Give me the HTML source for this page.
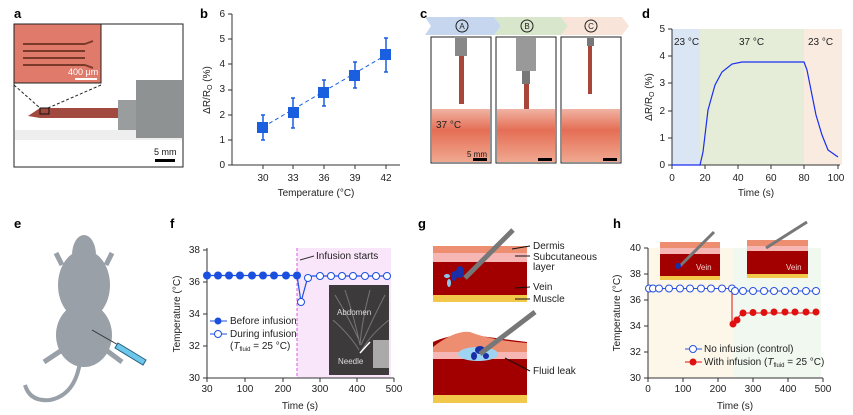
<!DOCTYPE html>
<html><head><meta charset="utf-8"><style>
body{margin:0;background:#fff;}
svg{display:block;font-family:"Liberation Sans",sans-serif;}
.t{font-size:10px;fill:#222}
.b{font-size:13px;font-weight:bold;fill:#000}
</style></head><body>
<svg width="853" height="415" viewBox="0 0 853 415" xmlns="http://www.w3.org/2000/svg">
<!-- a -->
<text x="14" y="18" class="b">a</text>
<rect x="14" y="24" width="169" height="143" fill="#fff" stroke="#222" stroke-width="1"/>
<rect x="15" y="130" width="167" height="10" fill="#eee"/>
<rect x="14" y="24" width="87" height="59" fill="#e07a6a" stroke="#222"/>
<g stroke="#7a3a2a" stroke-width="2" fill="none">
<path d="M23 44H85M23 51H85M23 58H85M23 65H85M85 44l8-3M85 65l8 3"/>
</g>
<text x="68" y="75" font-size="9" fill="#fff">400 μm</text>
<rect x="75" y="78" width="22" height="2" fill="#fff"/>
<path d="M14 85L40 108M101 85L48 108" stroke="#222" stroke-dasharray="3,2"/>
<path d="M28 116L40 108H122V118H40Z" fill="#a34a40"/>
<rect x="40" y="108" width="9" height="6" fill="none" stroke="#111"/>
<rect x="118" y="100" width="20" height="30" fill="#9a9d9e"/>
<rect x="136" y="80" width="46" height="58" fill="#8f9293"/>
<text x="154" y="155" font-size="9" fill="#111">5 mm</text>
<rect x="155" y="159" width="20" height="3" fill="#000"/>
<!-- b -->
<text x="200" y="18" class="b">b</text>
<g class="t" text-anchor="end" font-size="9">
<text x="225" y="168">0</text><text x="225" y="143">1</text><text x="225" y="118">2</text><text x="225" y="92">3</text><text x="225" y="67">4</text><text x="225" y="42">5</text><text x="225" y="17">6</text></g>
<path d="M232 14V165H400M228 14h4M228 39h4M228 64h4M228 90h4M228 115h4M228 140h4M228 165h4M263 165v4M293 165v4M324 165v4M355 165v4M386 165v4" stroke="#333" fill="none"/>
<g class="t" text-anchor="middle" font-size="9"><text x="263" y="181">30</text><text x="293" y="181">33</text><text x="324" y="181">36</text><text x="355" y="181">39</text><text x="386" y="181">42</text></g>
<text x="316" y="196" class="t" text-anchor="middle">Temperature (°C)</text>
<text transform="translate(210,90) rotate(-90)" class="t" text-anchor="middle">ΔR/R<tspan font-size="7" dy="2">O</tspan><tspan dy="-2"> (%)</tspan></text>
<path d="M263 127L386 55" stroke="#1a5fe0" stroke-dasharray="4,3"/>
<g stroke="#1a5fe0" stroke-width="1.5"><path d="M263 115v25M293 98v30M324 80v26M355 62v26M386 38v34M261 115h4M261 140h4M291 98h4M291 128h4M322 80h4M322 106h4M353 62h4M353 88h4M384 38h4M384 72h4"/></g>
<g fill="#1a5fe0"><rect x="257" y="122" width="11" height="11"/><rect x="288" y="107" width="11" height="11"/><rect x="318" y="87" width="11" height="11"/><rect x="349" y="70" width="11" height="11"/><rect x="380" y="49" width="11" height="11"/></g>
<!-- c -->
<text x="420" y="18" class="b">c</text>
<path d="M425 17H494L501 26L494 35H425L431 26Z" fill="#c5d6ee"/>
<path d="M494 17H561L568 26L561 35H494L501 26Z" fill="#d8e6cc"/>
<path d="M561 17H622L629 26L622 35H561L568 26Z" fill="#f8e4d8"/>
<g fill="none" stroke="#222"><circle cx="462" cy="26" r="6"/><circle cx="527" cy="26" r="6"/><circle cx="591" cy="26" r="6"/></g>
<g font-size="8" text-anchor="middle" fill="#222"><text x="462" y="29">A</text><text x="527" y="29">B</text><text x="591" y="29">C</text></g>
<defs><linearGradient id="m" x1="0" y1="0" x2="0" y2="1"><stop offset="0" stop-color="#f0b3a3"/><stop offset="0.4" stop-color="#e56e55"/><stop offset="1" stop-color="#f0a890"/></linearGradient></defs>
<g stroke="#222"><rect x="431" y="37" width="60" height="126" fill="#fff"/><rect x="496" y="37" width="60" height="126" fill="#fff"/><rect x="561" y="37" width="60" height="126" fill="#fff"/></g>
<rect x="432" y="109" width="58" height="53" fill="url(#m)"/><rect x="497" y="109" width="58" height="53" fill="url(#m)"/><rect x="562" y="109" width="58" height="53" fill="url(#m)"/>
<rect x="455" y="38" width="12" height="18" fill="#888"/><rect x="459" y="56" width="5" height="48" fill="#a9463a"/>
<rect x="516" y="38" width="20" height="33" fill="#999"/><rect x="522" y="71" width="8" height="13" fill="#777"/><rect x="524" y="84" width="5" height="25" fill="#a9463a"/>
<rect x="587" y="38" width="7" height="8" fill="#777"/><rect x="588" y="46" width="4" height="48" fill="#a9463a"/>
<text x="436" y="128" font-size="10" fill="#222">37 °C</text>
<text x="467" y="157" font-size="8" fill="#111">5 mm</text>
<g fill="#000"><rect x="473" y="158" width="14" height="3"/><rect x="538" y="158" width="14" height="3"/><rect x="603" y="158" width="14" height="3"/></g>
<!-- d -->
<text x="642" y="18" class="b">d</text>
<rect x="672" y="29" width="28" height="136" fill="#dbe6f4"/>
<rect x="700" y="29" width="104" height="136" fill="#e5ecd8"/>
<rect x="804" y="29" width="38" height="136" fill="#f9ebe0"/>
<g class="t" font-size="10"><text x="674" y="45">23 °C</text><text x="739" y="45">37 °C</text><text x="808" y="45">23 °C</text></g>
<path d="M672 29V165H840M668 29h4M668 56h4M668 83h4M668 111h4M668 138h4M668 165h4M672 165v4M705 165v4M738 165v4M771 165v4M804 165v4M838 165v4" stroke="#333" fill="none"/>
<g class="t" text-anchor="end" font-size="9"><text x="665" y="168">0</text><text x="665" y="141">1</text><text x="665" y="114">2</text><text x="665" y="86">3</text><text x="665" y="59">4</text><text x="665" y="32">5</text></g>
<g class="t" text-anchor="middle" font-size="9"><text x="672" y="181">0</text><text x="705" y="181">20</text><text x="738" y="181">40</text><text x="771" y="181">60</text><text x="804" y="181">80</text><text x="836" y="181">100</text></g>
<text x="756" y="196" class="t" text-anchor="middle">Time (s)</text>
<text transform="translate(652,97) rotate(-90)" class="t" text-anchor="middle">ΔR/R<tspan font-size="7" dy="2">O</tspan><tspan dy="-2"> (%)</tspan></text>
<path d="M672 165H700L703 152L708 110L715 85L722 72L732 64L742 62H804L807 70L811 90L816 115L822 135L828 150L838 157" stroke="#1a2ef0" fill="none" stroke-width="1.2"/>
<!-- e -->
<text x="14" y="228" class="b">e</text>
<g fill="#9aa0a8">
<ellipse cx="84" cy="335" rx="28" ry="32"/>
<ellipse cx="84" cy="285" rx="26" ry="35"/>
<ellipse cx="84" cy="255" rx="12" ry="20"/>
<path d="M80 362Q75 395 50 400Q30 402 25 385" stroke="#9aa0a8" stroke-width="4" fill="none"/>
<path d="M62 265L56 253M106 265L112 253M62 350L44 362M106 350L122 362" stroke="#9aa0a8" stroke-width="5"/>
</g>
<path d="M92 330L120 346" stroke="#333"/>
<path d="M118 343L146 360L143 365L115 348Z" fill="#6cc7ea" stroke="#2a6080"/>
<!-- f -->
<text x="170" y="228" class="b">f</text>
<rect x="297" y="248" width="94" height="130" fill="#f9e6fa"/>
<path d="M297 248V378" stroke="#e055e0" stroke-dasharray="3,2"/>
<rect x="329" y="285" width="60" height="90" fill="#3c3a3a"/>
<g stroke="#777" fill="none"><path d="M335 295Q350 320 359 340M345 290Q355 320 360 345M370 290Q362 320 360 345M385 295Q372 320 361 345M333 320Q350 335 359 350M389 320Q370 335 362 350"/></g>
<rect x="373" y="340" width="16" height="28" fill="#aaa"/>
<text x="337" y="315" font-size="8" fill="#ddd">Abdomen</text>
<text x="338" y="364" font-size="8" fill="#ddd">Needle</text>
<path d="M360 353L370 342" stroke="#fff" stroke-width="1.5"/>
<path d="M207 248V378H394M203 250h4M203 282h4M203 314h4M203 346h4M203 378h4M207 378v4M245 378v4M283 378v4M320 378v4M357 378v4M394 378v4" stroke="#333" fill="none"/>
<g class="t" text-anchor="end" font-size="9"><text x="200" y="381">30</text><text x="200" y="349">32</text><text x="200" y="317">34</text><text x="200" y="285">36</text><text x="200" y="253">38</text></g>
<g class="t" text-anchor="middle" font-size="9"><text x="207" y="392">30</text><text x="245" y="392">100</text><text x="283" y="392">200</text><text x="320" y="392">300</text><text x="357" y="392">400</text><text x="394" y="392">500</text></g>
<text x="300" y="409" class="t" text-anchor="middle">Time (s)</text>
<text transform="translate(180,314) rotate(-90)" class="t" text-anchor="middle">Temperature (°C)</text>
<text x="316" y="259" class="t" font-size="9">Infusion starts</text>
<path d="M314 256L300 260" stroke="#333"/>
<path d="M207 275.5H297L301 302L307 280L312 276H388" stroke="#1a4fe0" fill="none" stroke-width="1.2"/>
<g fill="#1a4fe0"><circle cx="207" cy="275.5" r="4"/><circle cx="218" cy="275.5" r="4"/><circle cx="229" cy="275.5" r="4"/><circle cx="240" cy="275.5" r="4"/><circle cx="252" cy="275.5" r="4"/><circle cx="263" cy="275.5" r="4"/><circle cx="274" cy="275.5" r="4"/><circle cx="286" cy="275.5" r="4"/><circle cx="297" cy="275.5" r="4"/></g>
<g fill="#fff" stroke="#1a4fe0"><circle cx="301" cy="302" r="3.5"/><circle cx="308" cy="278" r="3.5"/><circle cx="320" cy="276" r="3.5"/><circle cx="331" cy="276" r="3.5"/><circle cx="342" cy="276" r="3.5"/><circle cx="353" cy="276" r="3.5"/><circle cx="365" cy="276" r="3.5"/><circle cx="376" cy="276" r="3.5"/><circle cx="387" cy="276" r="3.5"/></g>
<path d="M210 321h17M210 334h17" stroke="#1a4fe0"/>
<circle cx="218" cy="321" r="3.5" fill="#1a4fe0"/><circle cx="218" cy="334" r="3.5" fill="#fff" stroke="#1a4fe0"/>
<g class="t" font-size="9"><text x="230" y="324">Before infusion</text><text x="230" y="337">During infusion</text><text x="230" y="349">(<tspan font-style="italic">T</tspan><tspan font-size="6" dy="2">fluid</tspan><tspan dy="-2"> = 25 °C)</tspan></text></g>
<!-- g -->
<text x="418" y="228" class="b">g</text>
<rect x="433" y="246" width="94" height="7" fill="#ee8e70"/><rect x="433" y="253" width="94" height="9" fill="#f6b6b4"/>
<rect x="433" y="262" width="94" height="33" fill="#a20000"/><rect x="433" y="295" width="94" height="7" fill="#f2c84a"/>
<path d="M465 278L513 230" stroke="#777" stroke-width="5"/>
<g fill="#1a2ea8"><ellipse cx="460" cy="272" rx="4" ry="6"/><ellipse cx="454" cy="276" rx="3" ry="5"/></g>
<g fill="#8cc8ee"><ellipse cx="447" cy="276" rx="3" ry="2"/><ellipse cx="449" cy="283" rx="2" ry="4"/></g>
<path d="M433 342Q455 332 480 336L527 342V395H433Z" fill="#a20000"/>
<path d="M433 347Q455 330 470 332Q490 340 527 343V352H433Z" fill="#ee8e70"/>
<rect x="433" y="352" width="94" height="7" fill="#f6b6b4"/>
<ellipse cx="478" cy="354" rx="20" ry="7" fill="#9ed4f2"/>
<g fill="#1a2ea8"><ellipse cx="480" cy="350" rx="5" ry="4"/><ellipse cx="474" cy="356" rx="3" ry="4"/><ellipse cx="486" cy="356" rx="3" ry="3"/></g>
<rect x="433" y="395" width="94" height="8" fill="#f2c84a"/>
<path d="M480 354L535 312" stroke="#777" stroke-width="5"/>
<g stroke="#111"><path d="M512 249L530 246M515 256L530 256M515 288L530 287M515 299L530 299M505 358L530 371"/></g>
<g class="t" font-size="9"><text x="533" y="249">Dermis</text><text x="533" y="260">Subcutaneous</text><text x="533" y="270">layer</text><text x="533" y="290">Vein</text><text x="533" y="302">Muscle</text><text x="533" y="374">Fluid leak</text></g>
<!-- h -->
<text x="613" y="228" class="b">h</text>
<rect x="648" y="248" width="85" height="130" fill="#fdf7ea"/><rect x="733" y="248" width="88" height="130" fill="#f0f8f0"/>
<rect x="660" y="242" width="60" height="6" fill="#ee8e70"/><rect x="660" y="248" width="60" height="6" fill="#f6b6b4"/><rect x="660" y="254" width="60" height="22" fill="#a20000"/><rect x="660" y="276" width="60" height="4" fill="#f2c84a"/>
<path d="M680 266L714 232" stroke="#777" stroke-width="3"/><circle cx="678" cy="266" r="3" fill="#1a2ea8"/>
<text x="696" y="270" font-size="8" fill="#f4d0d0">Vein</text>
<rect x="747" y="240" width="61" height="6" fill="#ee8e70"/><rect x="747" y="246" width="61" height="5" fill="#f6b6b4"/><rect x="747" y="251" width="61" height="23" fill="#a20000"/><rect x="747" y="274" width="61" height="4" fill="#f2c84a"/>
<path d="M766 248L807 222" stroke="#777" stroke-width="3"/>
<text x="786" y="270" font-size="8" fill="#f4d0d0">Vein</text>
<path d="M648 248V378H823M644 248h4M644 274h4M644 300h4M644 326h4M644 352h4M644 378h4M648 378v4M683 378v4M718 378v4M753 378v4M788 378v4M823 378v4" stroke="#333" fill="none"/>
<g class="t" text-anchor="end" font-size="9"><text x="641" y="381">30</text><text x="641" y="355">32</text><text x="641" y="329">34</text><text x="641" y="303">36</text><text x="641" y="277">38</text><text x="641" y="251">40</text></g>
<g class="t" text-anchor="middle" font-size="9"><text x="648" y="392">0</text><text x="683" y="392">100</text><text x="718" y="392">200</text><text x="753" y="392">300</text><text x="788" y="392">400</text><text x="823" y="392">500</text></g>
<text x="735" y="409" class="t" text-anchor="middle">Time (s)</text>
<text transform="translate(620,313) rotate(-90)" class="t" text-anchor="middle">Temperature (°C)</text>
<path d="M648 288.5H732V324L736 320L742 313H818" stroke="#e01010" fill="none"/>
<g fill="#e01010"><circle cx="733" cy="324" r="3.5"/><circle cx="737" cy="320" r="3.5"/><circle cx="743" cy="313" r="3.5"/><circle cx="753" cy="312.5" r="3.5"/><circle cx="764" cy="312.5" r="3.5"/><circle cx="774" cy="312" r="3.5"/><circle cx="785" cy="312" r="3.5"/><circle cx="795" cy="312" r="3.5"/><circle cx="806" cy="312" r="3.5"/><circle cx="816" cy="312" r="3.5"/></g>
<path d="M648 288.5H732L735 291H818" stroke="#2a50e0" fill="none"/>
<g fill="#fff" stroke="#2a50e0"><circle cx="649" cy="288.5" r="3.5"/><circle cx="653" cy="288.5" r="3.5"/><circle cx="659" cy="288.5" r="3.5"/><circle cx="669" cy="288.5" r="3.5"/><circle cx="680" cy="288.5" r="3.5"/><circle cx="690" cy="288.5" r="3.5"/><circle cx="701" cy="288.5" r="3.5"/><circle cx="711" cy="288.5" r="3.5"/><circle cx="722" cy="288.5" r="3.5"/><circle cx="732" cy="288.5" r="3.5"/><circle cx="735" cy="291" r="3.5"/><circle cx="743" cy="291" r="3.5"/><circle cx="753" cy="291" r="3.5"/><circle cx="764" cy="291" r="3.5"/><circle cx="774" cy="291" r="3.5"/><circle cx="785" cy="291" r="3.5"/><circle cx="795" cy="291" r="3.5"/><circle cx="806" cy="291" r="3.5"/><circle cx="816" cy="291" r="3.5"/></g>
<path d="M685 349h17M685 362h17" stroke="#2a50e0"/><path d="M685 362h17" stroke="#e01010"/>
<circle cx="693" cy="349" r="3.5" fill="#fff" stroke="#2a50e0"/><circle cx="693" cy="362" r="3.5" fill="#e01010"/>
<g class="t" font-size="9"><text x="704" y="352">No infusion (control)</text><text x="704" y="365">With infusion (<tspan font-style="italic">T</tspan><tspan font-size="6" dy="2">fluid</tspan><tspan dy="-2"> = 25 °C)</tspan></text></g>
</svg>
</body></html>
